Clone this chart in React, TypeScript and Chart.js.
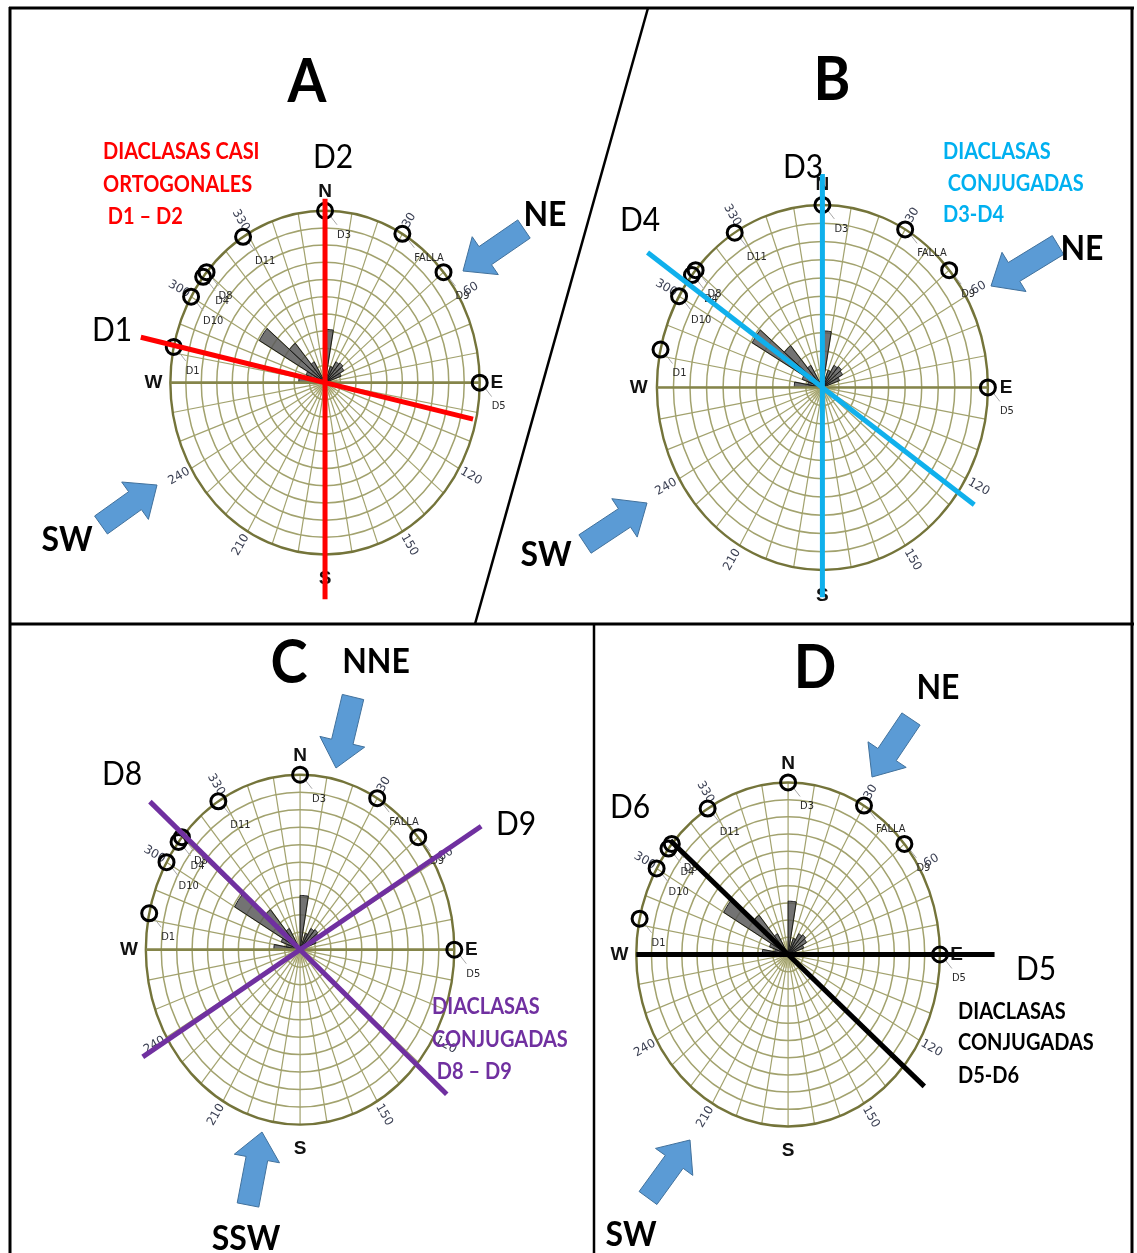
import React, { useEffect, useRef } from 'react';
import { Chart, registerables } from 'chart.js';
Chart.register(...registerables);

// ---------------- DATA ----------------
// Rose diagram: 10-degree bins (start azimuth) and normalised petal length
const ROSE_BIN_START = [0, 20, 30, 40, 50, 60, 270, 280, 290, 300, 310, 320];
const ROSE_LENGTH = [0.31, 0.1, 0.14, 0.15, 0.14, 0.11, 0.17, 0.09, 0.13, 0.49, 0.3, 0.14];

// Poles plotted on the primitive circle
const POLE_AZIMUTH = [0, 30, 50, 90, 282, 300, 308, 310, 328];
const POLE_LABELS = ['D3', 'FALLA', 'D9', 'D5', 'D1', 'D10', 'D4', 'D8', 'D11'];

// Tick labels around the net
const TICK_AZIMUTH = [30, 60, 120, 150, 210, 240, 300, 330];
const CARDINAL_LABELS = ['N', 'E', 'S', 'W'];
const CARDINAL_AZIMUTH = [0, 90, 180, 270];
const RING_COUNT = 10;
const SPOKE_STEP = 10;

// Fracture traces per panel: azimuth, length forward, length backward (net radius = 1)
const A_LINE_AZ = [0, 282.5];
const A_LINE_FWD = [1.07, 1.22];
const A_LINE_BACK = [1.26, 0.98];

const B_LINE_AZ = [0, 305];
const B_LINE_FWD = [1.17, 1.29];
const B_LINE_BACK = [1.15, 1.12];

const C_LINE_AZ = [311, 59];
const C_LINE_FWD = [1.29, 1.37];
const C_LINE_BACK = [1.26, 1.19];

const D_LINE_AZ = [90, 310.5];
const D_LINE_FWD = [1.36, 1.02];
const D_LINE_BACK = [1.0, 1.18];

// ---------------- HELPERS ----------------
const D2R = Math.PI / 180;
function polar(az: number, r: number) {
  return { x: r * Math.sin(az * D2R), y: r * Math.cos(az * D2R) };
}

const GRID = '#a2a26e';
const GRID_DARK = '#74743a';

const stereonetPlugin = {
  id: 'stereonet',
  beforeDatasetsDraw(chart: any) {
    const { ctx } = chart;
    const xs = chart.scales.x;
    const ys = chart.scales.y;
    const P = (az: number, r: number) => {
      const p = polar(az, r);
      return [xs.getPixelForValue(p.x), ys.getPixelForValue(p.y)];
    };
    const cx = xs.getPixelForValue(0);
    const cy = ys.getPixelForValue(0);
    const rx = xs.getPixelForValue(1) - cx;
    const ry = cy - ys.getPixelForValue(1);
    ctx.save();

    // background
    ctx.fillStyle = '#ffffff';
    ctx.beginPath();
    ctx.ellipse(cx, cy, rx, ry, 0, 0, Math.PI * 2);
    ctx.fill();
    ctx.fillStyle = '#e6e2c6';
    ctx.beginPath();
    ctx.ellipse(cx, cy, rx * 0.08, ry * 0.08, 0, 0, Math.PI * 2);
    ctx.fill();

    // rings
    ctx.strokeStyle = GRID;
    ctx.lineWidth = 1.5;
    for (let i = 1; i < RING_COUNT; i++) {
      const r = i / RING_COUNT;
      ctx.beginPath();
      ctx.ellipse(cx, cy, rx * r, ry * r, 0, 0, Math.PI * 2);
      ctx.stroke();
    }
    // spokes
    ctx.lineWidth = 1.2;
    for (let a = 0; a < 360; a += SPOKE_STEP) {
      const [px, py] = P(a, 1);
      ctx.beginPath();
      ctx.moveTo(cx, cy);
      ctx.lineTo(px, py);
      ctx.stroke();
    }

    // rose petals
    ctx.fillStyle = 'rgba(90,90,90,0.85)';
    ctx.strokeStyle = '#1a1a1a';
    ctx.lineWidth = 1;
    ROSE_BIN_START.forEach((a0, i) => {
      const L = ROSE_LENGTH[i];
      ctx.beginPath();
      ctx.moveTo(cx, cy);
      for (let k = 0; k <= 6; k++) {
        const [px, py] = P(a0 + (SPOKE_STEP * k) / 6, L);
        ctx.lineTo(px, py);
      }
      ctx.closePath();
      ctx.fill();
      ctx.stroke();
    });

    // outer ring + E-W line
    ctx.strokeStyle = GRID_DARK;
    ctx.lineWidth = 2.4;
    ctx.beginPath();
    ctx.ellipse(cx, cy, rx, ry, 0, 0, Math.PI * 2);
    ctx.stroke();
    ctx.strokeStyle = '#85854a';
    ctx.lineWidth = 2.6;
    ctx.beginPath();
    const [wx, wy] = P(270, 1);
    const [ex, ey] = P(90, 1);
    ctx.moveTo(wx, wy);
    ctx.lineTo(ex, ey);
    ctx.stroke();

    // tick labels
    ctx.fillStyle = '#3c4154';
    ctx.font = '12px "DejaVu Sans", sans-serif';
    ctx.textAlign = 'center';
    ctx.textBaseline = 'middle';
    TICK_AZIMUTH.forEach((az) => {
      const [px, py] = P(az, 1.09);
      let rot = az - 90;
      if (rot > 90) rot -= 180;
      if (rot < -90) rot += 180;
      ctx.save();
      ctx.translate(px, py);
      ctx.rotate(rot * D2R);
      ctx.fillText(String(az), 0, 0);
      ctx.restore();
    });

    // cardinal labels
    ctx.fillStyle = '#111';
    ctx.font = 'bold 19px "Liberation Sans", Arial, sans-serif';
    CARDINAL_LABELS.forEach((t, i) => {
      const az = CARDINAL_AZIMUTH[i];
      const [px, py] = P(az, az === 180 ? 1.14 : 1.11);
      ctx.fillText(t, px, py);
    });

    // pole labels with leaders
    ctx.font = '11px "DejaVu Sans Condensed", "DejaVu Sans", sans-serif';
    ctx.textAlign = 'left';
    POLE_AZIMUTH.forEach((az, i) => {
      const [px, py] = P(az, 1);
      ctx.strokeStyle = '#a8a8a8';
      ctx.lineWidth = 1;
      ctx.beginPath();
      ctx.moveTo(px + 5, py + 5);
      ctx.lineTo(px + 12, py + 14);
      ctx.stroke();
      ctx.fillStyle = '#2a2a2a';
      ctx.fillText(POLE_LABELS[i], px + 12, py + 24);
    });

    ctx.restore();
  },
};

type PanelProps = {
  box: number[];
  center: number[];
  radius: number[];
  lineAz: number[];
  lineFwd: number[];
  lineBack: number[];
  lineColor: string;
};

function StereoPanel({ box, center, radius, lineAz, lineFwd, lineBack, lineColor }: PanelProps) {
  const ref = useRef<HTMLCanvasElement>(null);
  const [left, top, w, h] = box;
  useEffect(() => {
    const [cx, cy] = center;
    const [rx, ry] = radius;
    const lineSets = lineAz.map((az, i) => ({
      data: [polar(az, lineFwd[i]), polar(az + 180, lineBack[i])],
      showLine: true,
      borderColor: lineColor,
      backgroundColor: lineColor,
      borderWidth: 5,
      borderCapStyle: 'butt',
      pointRadius: 0,
      pointHoverRadius: 0,
    }));
    const poleSet = {
      data: POLE_AZIMUTH.map((a) => polar(a, 1)),
      showLine: false,
      pointRadius: 7.5,
      pointHoverRadius: 7.5,
      borderWidth: 3,
      pointBorderWidth: 3,
      borderColor: '#000',
      pointBorderColor: '#000',
      backgroundColor: 'rgba(0,0,0,0)',
      pointBackgroundColor: 'rgba(0,0,0,0)',
    };
    const chart = new Chart(ref.current as HTMLCanvasElement, {
      type: 'scatter',
      data: { datasets: [...lineSets, poleSet] as any },
      options: {
        animation: false,
        responsive: false,
        maintainAspectRatio: false,
        events: [],
        layout: { padding: 0 },
        plugins: { legend: { display: false }, tooltip: { enabled: false } },
        scales: {
          x: { type: 'linear', display: false, min: (left - cx) / rx, max: (left + w - cx) / rx },
          y: { type: 'linear', display: false, min: (cy - top - h) / ry, max: (cy - top) / ry },
        },
      },
      plugins: [stereonetPlugin],
    });
    return () => chart.destroy();
  }, []);
  return (
    <canvas
      ref={ref}
      width={w}
      height={h}
      style={{ position: 'absolute', left, top, width: w, height: h }}
    />
  );
}

const FONT = 'Lato, "Open Sans", "Liberation Sans", sans-serif';

function Txt({ x, y, size, bold, color, anchor, children }: any) {
  const tx = anchor === 'left' ? '0' : '-50%';
  return (
    <div
      style={{
        position: 'absolute',
        left: x,
        top: y,
        transform: `translate(${tx}, -50%) scaleY(1.1)`,
        transformOrigin: anchor === 'left' ? 'left center' : 'center center',
        fontFamily: FONT,
        fontSize: size,
        fontWeight: bold ? 700 : 400,
        color: color || '#000',
        lineHeight: 1,
        whiteSpace: 'pre',
      }}
    >
      {children}
    </div>
  );
}

function arrowPoints(tail: number[], tip: number[], shaftW = 22, headW = 46, headL = 27) {
  const dx = tip[0] - tail[0];
  const dy = tip[1] - tail[1];
  const len = Math.hypot(dx, dy);
  const ux = dx / len, uy = dy / len;
  const nx = -uy, ny = ux;
  const bx = tip[0] - ux * headL, by = tip[1] - uy * headL;
  const pts = [
    [tail[0] + nx * shaftW / 2, tail[1] + ny * shaftW / 2],
    [bx + nx * shaftW / 2, by + ny * shaftW / 2],
    [bx + nx * headW / 2, by + ny * headW / 2],
    [tip[0], tip[1]],
    [bx - nx * headW / 2, by - ny * headW / 2],
    [bx - nx * shaftW / 2, by - ny * shaftW / 2],
    [tail[0] - nx * shaftW / 2, tail[1] - ny * shaftW / 2],
  ];
  return pts.map((p) => p.map((v) => v.toFixed(1)).join(',')).join(' ');
}

const ARROWS = [
  [[524, 229], [463, 271]],
  [[101, 525], [157, 485]],
  [[1058, 245], [991, 286]],
  [[585, 544], [647, 503]],
  [[353, 697], [336, 768]],
  [[248, 1205], [262, 1132]],
  [[911, 719], [872, 777]],
  [[648, 1198], [690, 1140]],
];

export default function App() {
  return (
    <div style={{ position: 'absolute', left: 0, top: 0, width: 1137, height: 1253, background: '#fff', overflow: 'hidden' }}>
      <StereoPanel box={[11, 10, 630, 612]} center={[325, 385]} radius={[160, 178]}
        lineAz={A_LINE_AZ} lineFwd={A_LINE_FWD} lineBack={A_LINE_BACK} lineColor="#ff0000" />
      <StereoPanel box={[478, 10, 653, 612]} center={[823, 390]} radius={[171, 189]}
        lineAz={B_LINE_AZ} lineFwd={B_LINE_FWD} lineBack={B_LINE_BACK} lineColor="#10b0ec" />
      <StereoPanel box={[11, 627, 582, 626]} center={[300, 950]} radius={[160, 181]}
        lineAz={C_LINE_AZ} lineFwd={C_LINE_FWD} lineBack={C_LINE_BACK} lineColor="#7030a0" />
      <StereoPanel box={[596, 627, 536, 626]} center={[785, 955]} radius={[158, 178]}
        lineAz={D_LINE_AZ} lineFwd={D_LINE_FWD} lineBack={D_LINE_BACK} lineColor="#000000" />

      <svg width={1137} height={1253} style={{ position: 'absolute', left: 0, top: 0 }}>
        <g stroke="#000" fill="none">
          <line x1={9} y1={8} x2={1134} y2={8} strokeWidth={3} />
          <line x1={10} y1={7} x2={10} y2={1253} strokeWidth={3} />
          <line x1={1132} y1={7} x2={1132} y2={1253} strokeWidth={3} />
          <line x1={9} y1={624} x2={1134} y2={624} strokeWidth={3} />
          <line x1={648} y1={8} x2={475} y2={624} strokeWidth={2.5} />
          <line x1={594} y1={624} x2={594} y2={1253} strokeWidth={2.5} />
        </g>
        {ARROWS.map((a, i) => (
          <polygon key={i} points={arrowPoints(a[0], a[1])} fill="#5b9bd5" stroke="#41719c" strokeWidth={1} />
        ))}
      </svg>

      {/* Panel letters */}
      <Txt x={307} y={79} size={56} bold>A</Txt>
      <Txt x={832} y={77} size={56} bold>B</Txt>
      <Txt x={289} y={660} size={56} bold>C</Txt>
      <Txt x={815} y={665} size={56} bold>D</Txt>

      {/* Panel A */}
      <Txt x={103} y={150} size={20} bold color="#ff0000" anchor="left">DIACLASAS CASI</Txt>
      <Txt x={103} y={183} size={20} bold color="#ff0000" anchor="left">ORTOGONALES</Txt>
      <Txt x={103} y={215} size={20} bold color="#ff0000" anchor="left">{' D1 – D2'}</Txt>
      <Txt x={333} y={155} size={30}>D2</Txt>
      <Txt x={112} y={328} size={30}>D1</Txt>
      <Txt x={545} y={213} size={32} bold>NE</Txt>
      <Txt x={67} y={538} size={32} bold>SW</Txt>

      {/* Panel B */}
      <Txt x={943} y={150} size={20} bold color="#00b0f0" anchor="left">DIACLASAS</Txt>
      <Txt x={943} y={182} size={20} bold color="#00b0f0" anchor="left">{' CONJUGADAS'}</Txt>
      <Txt x={943} y={213} size={20} bold color="#00b0f0" anchor="left">D3-D4</Txt>
      <Txt x={803} y={165} size={30}>D3</Txt>
      <Txt x={640} y={218} size={30}>D4</Txt>
      <Txt x={1082} y={247} size={32} bold>NE</Txt>
      <Txt x={546} y={553} size={32} bold>SW</Txt>

      {/* Panel C */}
      <Txt x={432} y={1005} size={20} bold color="#7030a0" anchor="left">DIACLASAS</Txt>
      <Txt x={432} y={1038} size={20} bold color="#7030a0" anchor="left">CONJUGADAS</Txt>
      <Txt x={432} y={1070} size={20} bold color="#7030a0" anchor="left">{' D8 – D9'}</Txt>
      <Txt x={122} y={772} size={30}>D8</Txt>
      <Txt x={516} y={822} size={30}>D9</Txt>
      <Txt x={376} y={660} size={32} bold>NNE</Txt>
      <Txt x={246} y={1237} size={32} bold>SSW</Txt>

      {/* Panel D */}
      <Txt x={958} y={1010} size={20} bold anchor="left">DIACLASAS</Txt>
      <Txt x={958} y={1041} size={20} bold anchor="left">CONJUGADAS</Txt>
      <Txt x={958} y={1074} size={20} bold anchor="left">D5-D6</Txt>
      <Txt x={630} y={805} size={30}>D6</Txt>
      <Txt x={1036} y={967} size={30}>D5</Txt>
      <Txt x={938} y={686} size={32} bold>NE</Txt>
      <Txt x={631} y={1233} size={32} bold>SW</Txt>
    </div>
  );
}
